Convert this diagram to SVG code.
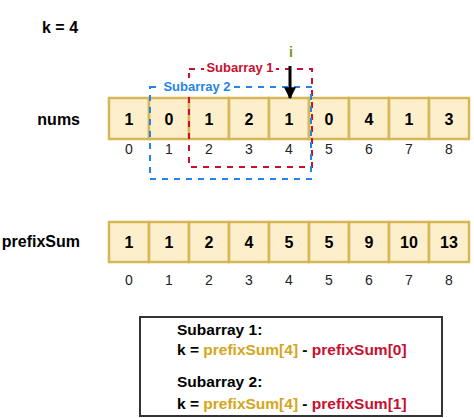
<svg xmlns="http://www.w3.org/2000/svg" width="474" height="418" viewBox="0 0 474 418">
<style>
text{font-family:"Liberation Sans",Arial,sans-serif}
.cell{fill:#fdefcb;stroke:#d6b656;stroke-width:2.5}
.v{font-size:16px;font-weight:bold;text-anchor:middle;fill:#000}
.ix{font-size:14px;text-anchor:middle;fill:#222}
.lbl{font-size:16px;font-weight:bold;text-anchor:end;fill:#000}
.b{font-size:15.5px;font-weight:bold}
.gold{fill:#d6a519}
.red{fill:#c8102e}
</style>
<defs>
<marker id="ah" viewBox="0 0 10 10" refX="9" refY="5" markerWidth="4" markerHeight="4" orient="auto" markerUnits="strokeWidth"><path d="M0,0 L10,5 L0,10 z" fill="#000"/></marker>
</defs>
<rect width="474" height="418" fill="#fff"/>
<text id="k" x="42" y="33" style="font-size:16px;font-weight:bold">k = 4</text>
<text id="nums-label" x="80" y="125" class="lbl">nums</text>
<text id="prefix-label" x="80" y="247" class="lbl">prefixSum</text>
<g id="nums">
<rect class="cell" x="109" y="98" width="40" height="41"/><text class="v" x="129" y="125">1</text>
<rect class="cell" x="149" y="98" width="40" height="41"/><text class="v" x="169" y="125">0</text>
<rect class="cell" x="189" y="98" width="40" height="41"/><text class="v" x="209" y="125">1</text>
<rect class="cell" x="229" y="98" width="40" height="41"/><text class="v" x="249" y="125">2</text>
<rect class="cell" x="269" y="98" width="40" height="41"/><text class="v" x="289" y="125">1</text>
<rect class="cell" x="309" y="98" width="40" height="41"/><text class="v" x="329" y="125">0</text>
<rect class="cell" x="349" y="98" width="40" height="41"/><text class="v" x="369" y="125">4</text>
<rect class="cell" x="389" y="98" width="40" height="41"/><text class="v" x="409" y="125">1</text>
<rect class="cell" x="429" y="98" width="40" height="41"/><text class="v" x="449" y="125">3</text>
</g>
<g id="nums-idx">
<text class="ix" x="129" y="154">0</text><text class="ix" x="169" y="154">1</text><text class="ix" x="209" y="154">2</text>
<text class="ix" x="249" y="154">3</text><text class="ix" x="289" y="154">4</text><text class="ix" x="329" y="154">5</text>
<text class="ix" x="369" y="154">6</text><text class="ix" x="409" y="154">7</text><text class="ix" x="449" y="154">8</text>
</g>
<g id="prefix">
<rect class="cell" x="109" y="222" width="40" height="40"/><text class="v" x="129" y="248">1</text>
<rect class="cell" x="149" y="222" width="40" height="40"/><text class="v" x="169" y="248">1</text>
<rect class="cell" x="189" y="222" width="40" height="40"/><text class="v" x="209" y="248">2</text>
<rect class="cell" x="229" y="222" width="40" height="40"/><text class="v" x="249" y="248">4</text>
<rect class="cell" x="269" y="222" width="40" height="40"/><text class="v" x="289" y="248">5</text>
<rect class="cell" x="309" y="222" width="40" height="40"/><text class="v" x="329" y="248">5</text>
<rect class="cell" x="349" y="222" width="40" height="40"/><text class="v" x="369" y="248">9</text>
<rect class="cell" x="389" y="222" width="40" height="40"/><text class="v" x="409" y="248">10</text>
<rect class="cell" x="429" y="222" width="40" height="40"/><text class="v" x="449" y="248">13</text>
</g>
<g id="prefix-idx">
<text class="ix" x="129" y="285">0</text><text class="ix" x="169" y="285">1</text><text class="ix" x="209" y="285">2</text>
<text class="ix" x="249" y="285">3</text><text class="ix" x="289" y="285">4</text><text class="ix" x="329" y="285">5</text>
<text class="ix" x="369" y="285">6</text><text class="ix" x="409" y="285">7</text><text class="ix" x="449" y="285">8</text>
</g>
<g id="connectors">
<rect id="sub1" x="189" y="69" width="123" height="98" fill="none" stroke="#c8102e" stroke-width="2" stroke-dasharray="6,6"/>
<rect id="sub2" x="150" y="87" width="161" height="92" fill="none" stroke="#2683e8" stroke-width="2" stroke-dasharray="6,6"/>
<line id="arrow" x1="290" y1="66" x2="290" y2="98" stroke="#000" stroke-width="3" marker-end="url(#ah)"/>
</g>
<g id="sub1-label"><rect x="204" y="59" width="72" height="16" fill="#fff"/><text x="240" y="72" class="red" style="font-size:13px;font-weight:bold;text-anchor:middle">Subarray 1</text></g>
<g id="sub2-label"><rect x="160" y="78" width="74" height="16" fill="#fff"/><text x="197" y="91" style="font-size:13px;font-weight:bold;text-anchor:middle;fill:#2683e8">Subarray 2</text></g>
<text id="i" x="291" y="57" style="font-size:14px;font-weight:bold;text-anchor:middle;fill:#6b9a1f">i</text>
<g id="formula">
<rect x="140" y="317" width="302" height="99" fill="#fff" stroke="#333" stroke-width="2"/>
<text x="177" y="335" class="b">Subarray 1:</text>
<text x="177" y="355" class="b">k = <tspan class="gold">prefixSum[4]</tspan> - <tspan class="red">prefixSum[0]</tspan></text>
<text x="177" y="387" class="b">Subarray 2:</text>
<text x="177" y="409" class="b">k = <tspan class="gold">prefixSum[4]</tspan> - <tspan class="red">prefixSum[1]</tspan></text>
</g>
</svg>
